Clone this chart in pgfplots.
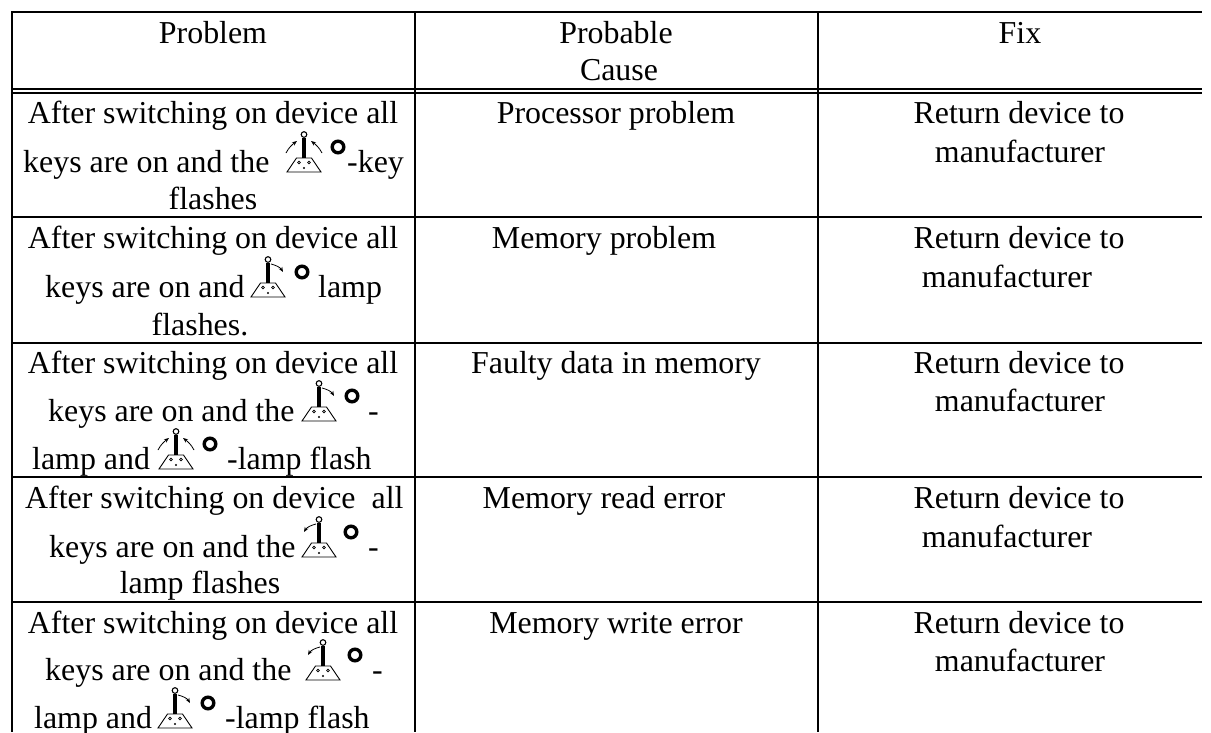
\documentclass[border=0pt]{standalone}
\usepackage{pgfplots}
\pgfplotsset{compat=1.18}
\usepackage{fontspec}
\usetikzlibrary{arrows.meta}
\setmainfont{Liberation Serif}
\tikzset{txt/.style={inner sep=0pt,font=\fontsize{31.9}{34}\selectfont}}
\newcommand{\T}[3]{\node[anchor=base,txt] at (axis cs:#1,#2) {#3};}
\newcommand{\W}[3]{\node[anchor=base west,txt] at (axis cs:#1,#2) {#3};}
\newcommand{\icon}[4]{%
 \begin{scope}[shift={(axis cs:#1,#2)},yscale=-1,x=1pt,y=1pt]
 \draw[line width=0.9pt] (-17,0)--(17,0)--(7.5,-14)--(-7.5,-14)--cycle;
 \draw[line width=3.6pt] (0,-14)--(0,-34);
 \draw[line width=1.1pt,fill=white] (0,-37.5) circle (2.8);
 \draw[line width=.7pt] (-5,-9.5) circle (1.3) (5,-9.5) circle (1.3);
 \fill (0,-4) circle (1.1);
 #3
 \draw[line width=3.4pt] (#4,-25) circle (5.8);
 \end{scope}}
\tikzset{arw/.style={line width=.8pt,-{Stealth[length=5pt,width=4pt]}}}
\newcommand{\AL}{\draw[arw] (-18,-19) .. controls (-15,-25) and (-11,-28) .. (-7,-31);}
\newcommand{\AR}{\draw[arw] (18,-19) .. controls (15,-25) and (11,-28) .. (7,-31);}
\newcommand{\AP}{\draw[arw] (3,-33) .. controls (7,-32) and (12,-30) .. (15,-25);}
\newcommand{\AN}{\draw[arw] (-3,-33) .. controls (-7,-32) and (-12,-30) .. (-15,-25);}
\begin{document}
\begin{tikzpicture}
\path[use as bounding box] (0,0) rectangle (1211pt,732pt);
\begin{axis}[anchor=south west,at={(0,0)},scale only axis,width=1211pt,height=732pt,xmin=0,xmax=1211,ymin=0,ymax=732,y dir=reverse,hide axis,clip=false]
\addplot[black,mark=none,line width=2pt] coordinates {(11,12)(1202,12)};
\addplot[black,mark=none,line width=2pt] coordinates {(11,89)(1202,89)};
\addplot[black,mark=none,line width=2pt] coordinates {(11,93)(1202,93)};
\addplot[black,mark=none,line width=1.7pt] coordinates {(11,217)(1202,217)};
\addplot[black,mark=none,line width=1.7pt] coordinates {(11,343)(1202,343)};
\addplot[black,mark=none,line width=1.7pt] coordinates {(11,477)(1202,477)};
\addplot[black,mark=none,line width=1.7pt] coordinates {(11,602)(1202,602)};
\addplot[black,mark=none,line width=1.7pt] coordinates {(12,12)(12,732)};
\addplot[black,mark=none,line width=1.5pt] coordinates {(415,12)(415,732)};
\addplot[black,mark=none,line width=1.2pt] coordinates {(818,12)(818,732)};
\T{213}{43}{Problem}
\T{616}{43}{Probable}
\T{619}{80}{Cause}
\T{1020}{43}{Fix}
\T{213}{123}{After switching on device all}
\W{23}{172}{keys are on and the}
\W{347}{172}{-key}
\icon{304}{172}{\AL\AR}{34}
\T{213}{209}{flashes}
\T{213}{248}{After switching on device all}
\W{45}{297}{keys are on and}
\W{318}{297}{lamp}
\icon{268}{297}{\AP}{34}
\T{200}{335}{flashes.}
\T{213}{373}{After switching on device all}
\W{48}{421}{keys are on and the}
\W{368}{421}{-}
\icon{319}{421}{\AP}{33}
\W{32}{469}{lamp and}
\W{227}{469}{-lamp flash}
\icon{176}{469}{\AL\AR}{34}
\W{25}{508}{After switching on device\ \ all}
\W{49}{557}{keys are on and the}
\W{368}{557}{-}
\icon{319}{557}{\AN}{32}
\T{200}{593}{lamp flashes}
\T{213}{633}{After switching on device all}
\W{45}{680}{keys are on and the}
\W{372}{680}{-}
\icon{323}{680}{\AN}{32}
\W{34}{728}{lamp and}
\W{225}{728}{-lamp flash}
\icon{175}{728}{\AP}{33}
\T{616}{123}{Processor problem}
\T{604}{248}{Memory problem}
\T{616}{373}{Faulty data in memory}
\T{604}{508}{Memory read error}
\T{616}{633}{Memory write error}
\T{1019}{123}{Return device to}
\T{1020}{162}{manufacturer}
\T{1019}{248}{Return device to}
\T{1007}{287}{manufacturer}
\T{1019}{373}{Return device to}
\T{1020}{411}{manufacturer}
\T{1019}{508}{Return device to}
\T{1007}{547}{manufacturer}
\T{1019}{633}{Return device to}
\T{1020}{671}{manufacturer}
\end{axis}
\end{tikzpicture}
\end{document}
